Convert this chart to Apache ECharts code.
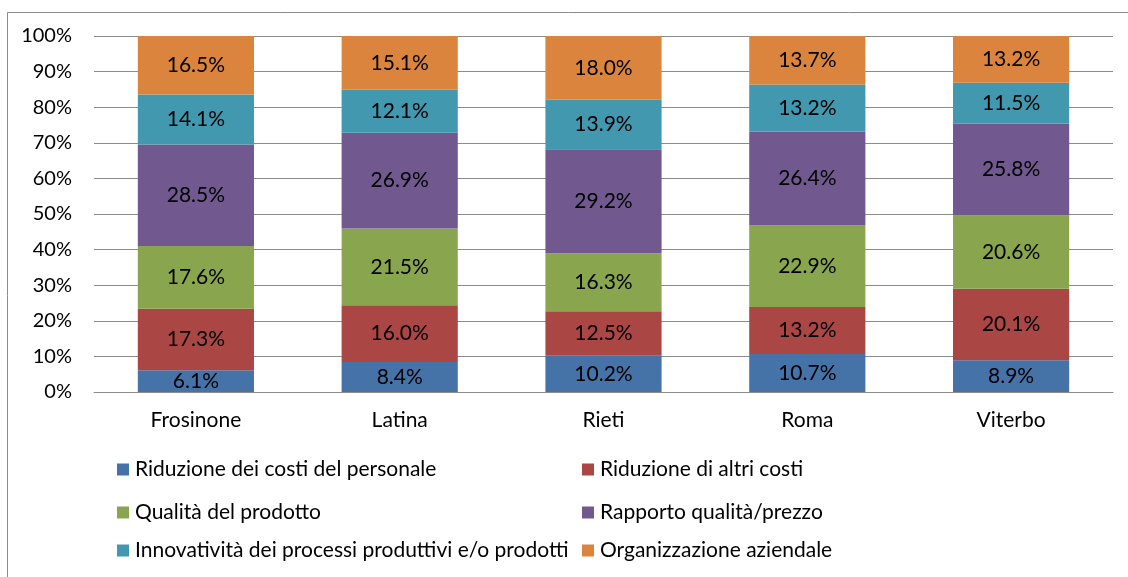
<!DOCTYPE html>
<html>
<head>
<meta charset="utf-8">
<script src="https://cdn.jsdelivr.net/npm/echarts@6/dist/echarts.min.js"></script>
<style>
  html, body { margin: 0; padding: 0; background: #fff; }
  #main { width: 1128px; height: 577px; }
</style>
</head>
<body>
<div id="main"></div>
<script>
// province e motivazioni (%)
var categories = ['Frosinone', 'Latina', 'Rieti', 'Roma', 'Viterbo'];
var seriesNames = [
    'Riduzione dei costi del personale',
    'Riduzione di altri costi',
    'Qualità del prodotto',
    'Rapporto qualità/prezzo',
    'Innovatività dei processi produttivi e/o prodotti',
    'Organizzazione aziendale'
];
var costiPersonale = [6.1, 8.4, 10.2, 10.7, 8.9];
var altriCosti = [17.3, 16.0, 12.5, 13.2, 20.1];
var qualitaProdotto = [17.6, 21.5, 16.3, 22.9, 20.6];
var qualitaPrezzo = [28.5, 26.9, 29.2, 26.4, 25.8];
var innovativita = [14.1, 12.1, 13.9, 13.2, 11.5];
var organizzazione = [16.5, 15.1, 18.0, 13.7, 13.2];
var colors = ['#4572A7', '#AA4643', '#89A54E', '#71588F', '#4198AF', '#DB843D'];

var FONT = 'Lato';
var FSIZE = 21;
var dataList = [costiPersonale, altriCosti, qualitaProdotto, qualitaPrezzo, innovativita, organizzazione];

var series = [];
for (var i = 0; i < seriesNames.length; i++) {
    series.push({
        name: seriesNames[i],
        type: 'bar',
        stack: 'tot',
        barWidth: '57%',
        data: dataList[i],
        itemStyle: {color: colors[i]},
        label: {
            show: true,
            position: 'inside',
            color: '#000',
            fontFamily: FONT,
            fontSize: FSIZE,
            formatter: function (p) { return p.value.toFixed(1) + '%'; }
        }
    });
}

// legenda su due colonne
var legendPos = [[117, 459], [582, 459], [117, 502], [582, 502], [117, 540], [582, 540]];
var legends = [];
for (var j = 0; j < seriesNames.length; j++) {
    legends.push({
        data: [seriesNames[j]],
        icon: 'rect',
        left: legendPos[j][0],
        top: legendPos[j][1],
        padding: 0,
        itemWidth: 12,
        itemHeight: 12,
        itemGap: 0,
        selectedMode: false,
        textStyle: {fontFamily: FONT, fontSize: FSIZE, color: '#000', padding: [0, 0, 0, 1]}
    });
}

var chart = echarts.init(document.getElementById('main'));
chart.setOption({
    animation: false,
    color: colors,
    graphic: [{
        type: 'rect',
        shape: {x: 7.5, y: 12.5, width: 1130, height: 580},
        style: {fill: 'none', stroke: '#8c8c8c', lineWidth: 1}
    }],
    legend: legends,
    grid: {left: 94, right: 15, top: 36, bottom: 185},
    xAxis: {
        type: 'category',
        data: categories,
        axisTick: {show: false},
        axisLine: {lineStyle: {color: '#8c8c8c'}},
        axisLabel: {fontFamily: FONT, fontSize: FSIZE, color: '#000', margin: 18}
    },
    yAxis: {
        type: 'value',
        min: 0,
        max: 100,
        interval: 10,
        axisLine: {show: false},
        axisTick: {show: false},
        splitLine: {lineStyle: {color: '#8c8c8c'}},
        axisLabel: {fontFamily: FONT, fontSize: 20, color: '#000', margin: 22, formatter: '{value}%'}
    },
    series: series
});
window.onresize = chart.resize;
</script>
</body>
</html>
